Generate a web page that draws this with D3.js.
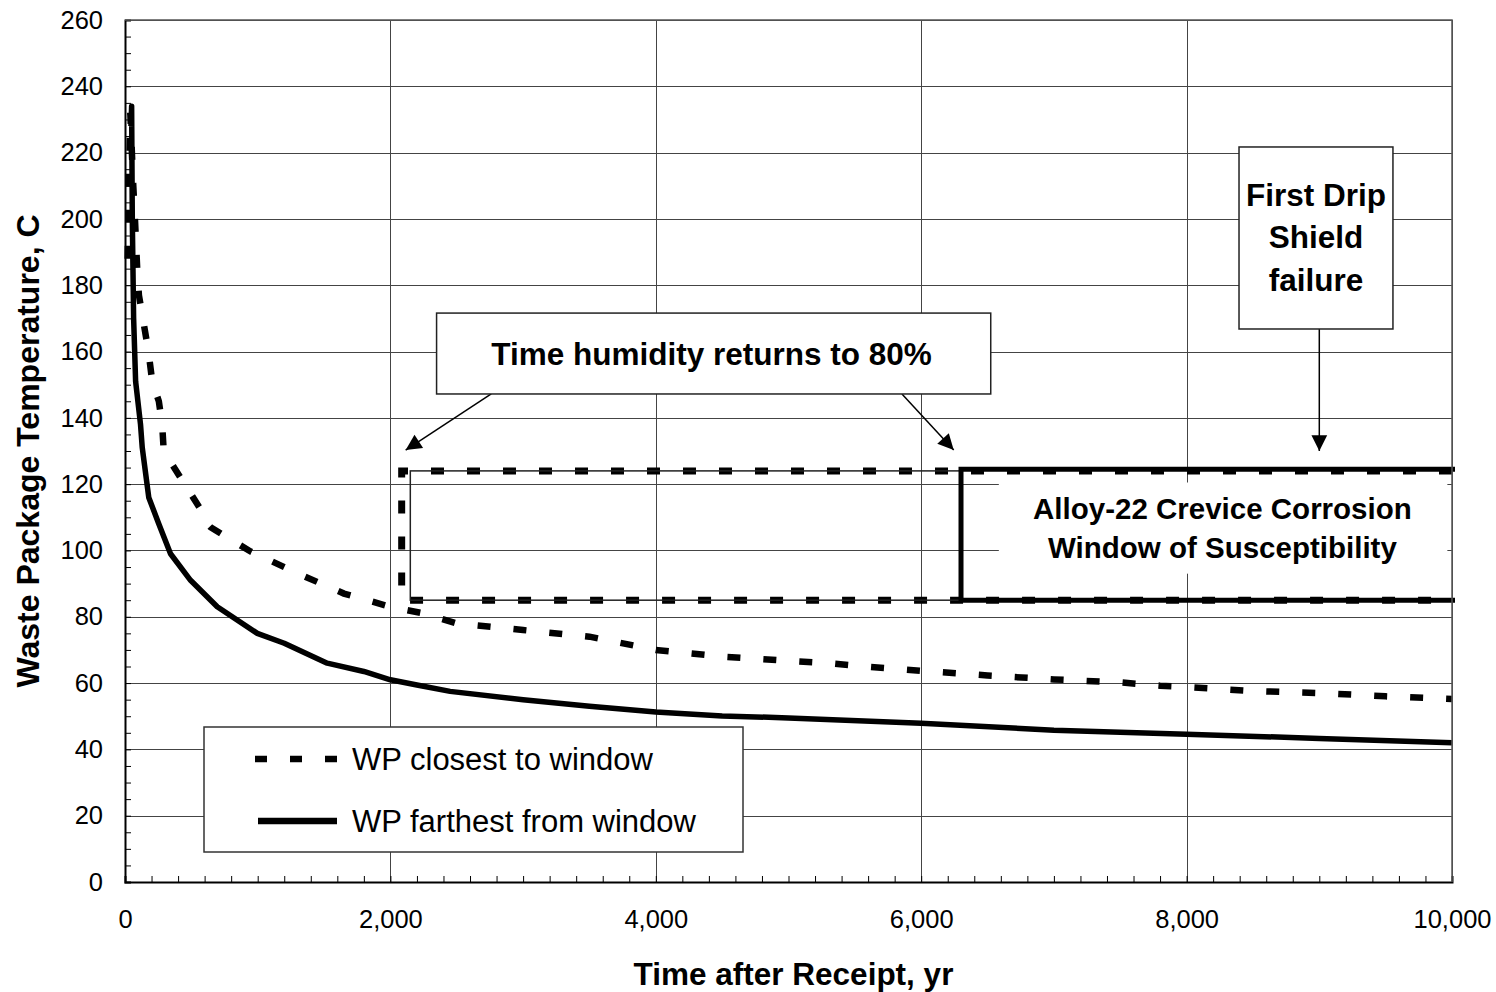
<!DOCTYPE html>
<meta charset="utf-8">
<head>
<style>
  body { margin: 0; background: #fff; }
  text { font-family: "Liberation Sans", Arial, sans-serif; fill: #000; }
  .tick text { font-size: 25.5px; }
  .grid line { stroke: #444; stroke-width: 1; shape-rendering: crispEdges; }
  .grid path { display: none; }
</style>
</head>
<body>
<script src="https://cdnjs.cloudflare.com/ajax/libs/d3/7.8.5/d3.min.js"></script>
<script>

// WP closest to window (dashed)
const tClosest = [20, 40, 60, 75, 92, 105, 130, 177, 205, 255, 280, 292, 418, 560, 575, 645, 946, 1323, 1650, 2000,
  2250, 2500, 3000, 3500, 4000, 4500, 5000, 5300, 5600, 6000, 6500, 7000, 7500, 7800, 8000, 8500, 9000, 9500, 10000];
const tempClosest = [188, 232, 212, 200, 185, 177, 171, 160, 151, 145, 138, 130, 122, 113, 110, 107, 99.7, 92.7, 87, 83,
  81, 78, 76, 74, 70, 68, 66.7, 66, 64.9, 63.7, 62.3, 61.1, 60.2, 59.2, 58.8, 57.6, 57, 56, 55.2];

// WP farthest from window (solid)
const tFarthest = [45, 50, 55, 65, 80, 117, 130, 179, 255, 343, 494, 695, 997, 1200, 1524, 1800, 2000, 2200, 2450, 3000,
  3500, 4000, 4500, 5000, 6000, 7000, 8000, 9000, 10000];
const tempFarthest = [228, 234, 200, 170, 151, 138, 131, 116, 108, 99, 91, 83, 75, 72, 66, 63.5, 61, 59.4, 57.5, 55,
  53, 51.3, 50.1, 49.5, 47.9, 45.8, 44.6, 43.3, 42];

const seriesNames = ["WP closest to window", "WP farthest from window"];

// window of susceptibility (time, temperature)
const humidityStart = 2085, humidityInner = 2150, dripFailure = 9000, windowStart = 6300;
const tempLow = 85, tempHigh = 124;

const xTicks = [0, 2000, 4000, 6000, 8000, 10000];
const yTicks = d3.range(0, 261, 20);

const margin = {top: 20, right: 44, bottom: 110, left: 125},
    width = 1496 - margin.left - margin.right,
    height = 992 - margin.top - margin.bottom;

const x = d3.scaleLinear().domain([0, 10000]).range([0, width]);
const y = d3.scaleLinear().domain([0, 260]).range([height, 0]);

const svg = d3.select("body").append("svg")
    .attr("width", 1496)
    .attr("height", 992)
  .append("g")
    .attr("transform", "translate(" + margin.left + "," + margin.top + ")");

// gridlines
svg.append("g")
    .attr("class", "grid")
    .call(d3.axisLeft(y).tickValues(yTicks.slice(1)).tickSize(-width).tickFormat(""));
svg.append("g")
    .attr("class", "grid")
    .attr("transform", "translate(0," + height + ")")
    .call(d3.axisBottom(x).tickValues(xTicks.slice(1)).tickSize(-height).tickFormat(""));

// curves
const line = d3.line().x(d => x(d[0])).y(d => y(d[1]));

svg.append("path")
    .datum(d3.zip(tClosest, tempClosest))
    .attr("d", line)
    .attr("fill", "none")
    .attr("stroke", "#000")
    .attr("stroke-width", 6.5)
    .attr("stroke-dasharray", "13,23");

svg.append("path")
    .datum(d3.zip(tFarthest, tempFarthest))
    .attr("d", line)
    .attr("fill", "none")
    .attr("stroke", "#000")
    .attr("stroke-width", 5.5)
    .attr("stroke-linejoin", "round");

// dashed window box (humidity)
svg.append("path")
    .attr("d", "M" + x(10000) + "," + y(tempHigh) + "H" + x(humidityStart) + "V" + y(tempLow) + "H" + x(10000))
    .attr("fill", "none")
    .attr("stroke", "#000")
    .attr("stroke-width", 7)
    .attr("stroke-dasharray", "13,23");

svg.append("rect")
    .attr("x", x(humidityInner))
    .attr("y", y(tempHigh))
    .attr("width", x(windowStart) - x(humidityInner))
    .attr("height", y(tempLow) - y(tempHigh))
    .attr("fill", "none")
    .attr("stroke", "#222")
    .attr("stroke-width", 1.5);

// thick window of susceptibility box
svg.append("path")
    .attr("d", "M" + (x(10000) + 3) + "," + y(124.5) + "H" + x(windowStart) + "V" + y(tempLow) + "H" + (x(10000) + 3))
    .attr("fill", "none")
    .attr("stroke", "#000")
    .attr("stroke-width", 5);

svg.append("rect")
    .attr("x", x(6585))
    .attr("y", y(120.5))
    .attr("width", x(9965) - x(6585))
    .attr("height", y(93) - y(120.5))
    .attr("fill", "#fff");

svg.append("text")
    .attr("text-anchor", "middle")
    .style("font-size", "29.5px")
    .style("font-weight", "bold")
    .selectAll("tspan")
    .data(["Alloy-22 Crevice Corrosion", "Window of Susceptibility"])
    .join("tspan")
      .attr("x", x(8270))
      .attr("y", (d, i) => y(109.5) + i * 39)
      .text(d => d);

// axes
svg.append("g")
    .attr("transform", "translate(0," + height + ")")
    .call(d3.axisBottom(x).ticks(50).tickSize(-6).tickFormat(""))
    .call(g => g.select(".domain").attr("stroke-width", 2));
svg.append("g")
    .call(d3.axisLeft(y).ticks(52).tickSize(-6).tickFormat(""))
    .call(g => g.select(".domain").attr("stroke-width", 2));

svg.append("g")
    .attr("transform", "translate(0," + height + ")")
    .call(d3.axisBottom(x).tickValues(xTicks).tickSize(0).tickPadding(28).tickFormat(d3.format(",")))
    .call(g => g.select(".domain").remove());
svg.append("g")
    .call(d3.axisLeft(y).tickValues(yTicks).tickSize(0).tickPadding(22))
    .call(g => g.select(".domain").remove());

// plot border top/right
svg.append("path")
    .attr("d", "M0,0H" + width + "V" + height)
    .attr("fill", "none")
    .attr("stroke", "#555")
    .attr("stroke-width", 1.5);

// axis titles
svg.append("text")
    .attr("x", width / 2 + 5)
    .attr("y", height + 103)
    .attr("text-anchor", "middle")
    .style("font-size", "31.5px")
    .style("font-weight", "bold")
    .text("Time after Receipt, yr");

svg.append("text")
    .attr("transform", "translate(" + (-86) + "," + (height / 2) + ") rotate(-90)")
    .attr("text-anchor", "middle")
    .style("font-size", "32px")
    .style("font-weight", "bold")
    .text("Waste Package Temperature, C");

// arrows
svg.append("defs").append("marker")
    .attr("id", "arrow")
    .attr("viewBox", "0 -2 10 14")
    .attr("refX", 10).attr("refY", 5)
    .attr("markerWidth", 22).attr("markerHeight", 22)
    .attr("markerUnits", "userSpaceOnUse")
    .attr("orient", "auto")
  .append("path")
    .attr("d", "M0,0L10,5L0,10Z")
    .attr("fill", "#000");

const arrows = [
  [x(2760), y(147.2), x(2115), y(130.3)],
  [x(5855), y(147.2), x(6245), y(130.3)],
  [x(dripFailure), y(166.8), x(dripFailure), y(130)]
];
svg.selectAll(".arrow")
  .data(arrows)
  .join("line")
    .attr("class", "arrow")
    .attr("x1", d => d[0]).attr("y1", d => d[1])
    .attr("x2", d => d[2]).attr("y2", d => d[3])
    .attr("stroke", "#000")
    .attr("stroke-width", 1.5)
    .attr("marker-end", "url(#arrow)");

// humidity callout
svg.append("rect")
    .attr("x", x(2348)).attr("y", y(171.6))
    .attr("width", x(6524) - x(2348)).attr("height", y(147.2) - y(171.6))
    .attr("fill", "#fff").attr("stroke", "#222").attr("stroke-width", 1.5);
svg.append("text")
    .attr("x", x(4420)).attr("y", y(171.6) + 52)
    .attr("text-anchor", "middle")
    .style("font-size", "31.5px").style("font-weight", "bold")
    .text("Time humidity returns to 80%");

// drip shield callout
svg.append("rect")
    .attr("x", x(8395)).attr("y", y(221.7))
    .attr("width", x(9555) - x(8395)).attr("height", y(166.8) - y(221.7))
    .attr("fill", "#fff").attr("stroke", "#222").attr("stroke-width", 1.5);
svg.append("text")
    .attr("text-anchor", "middle")
    .style("font-size", "31.5px").style("font-weight", "bold")
    .selectAll("tspan")
    .data(["First Drip", "Shield", "failure"])
    .join("tspan")
      .attr("x", x(8975))
      .attr("y", (d, i) => y(221.7) + 59 + i * 42.5)
      .text(d => d);

// legend
const legend = svg.append("g").attr("transform", "translate(" + (204 - margin.left) + "," + (727 - margin.top) + ")");
legend.append("rect")
    .attr("width", 539).attr("height", 125)
    .attr("fill", "#fff").attr("stroke", "#333").attr("stroke-width", 1.5);
legend.selectAll(".key")
  .data(seriesNames)
  .join("line")
    .attr("x1", (d, i) => i ? 54 : 51).attr("x2", 133)
    .attr("y1", (d, i) => 32 + i * 62).attr("y2", (d, i) => 32 + i * 62)
    .attr("stroke", "#000")
    .attr("stroke-width", 6.5)
    .attr("stroke-dasharray", (d, i) => i ? null : "12,23");
legend.selectAll(".label")
  .data(seriesNames)
  .join("text")
    .attr("x", 148)
    .attr("y", (d, i) => 43 + i * 62)
    .style("font-size", "31px")
    .text(d => d);

</script>
</body>
